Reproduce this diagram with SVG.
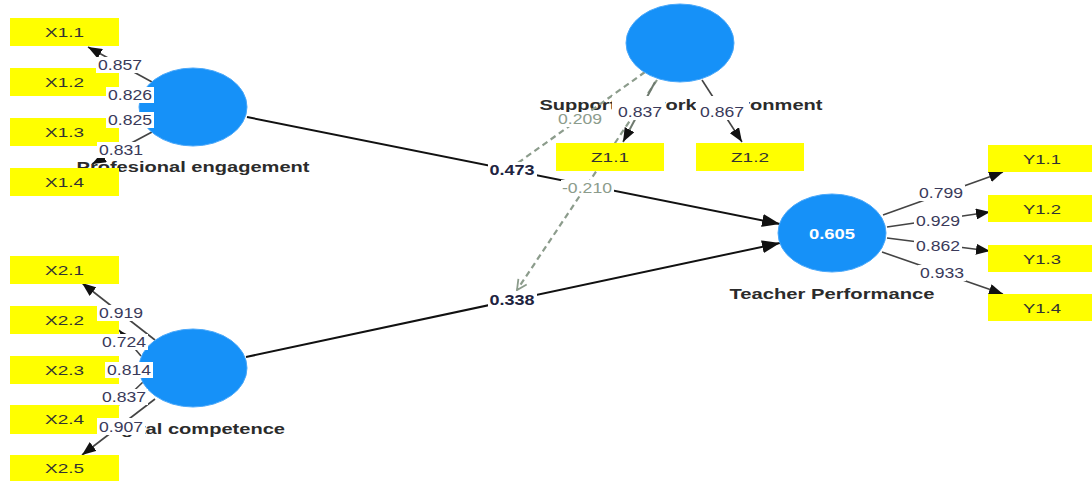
<svg xmlns="http://www.w3.org/2000/svg" width="1092" height="481" viewBox="0 0 1092 481">
<defs>
<style>
.title{font-family:"Liberation Sans",Arial,sans-serif;font-weight:bold;font-size:15px;fill:#2b2b2b}
.box{fill:#ffff00}
.btxt{font-family:"Liberation Sans",Arial,sans-serif;font-size:13.5px;fill:#333;text-anchor:middle}
.lbg{fill:#ffffff}
.ltxt{font-family:"Liberation Sans",Arial,sans-serif;font-size:14px;fill:#3a3a5a;text-anchor:middle}
.lgray{fill:#8c9c8c}
.lbold{font-weight:bold;fill:#1e2440}
.lv{fill:none;stroke:#444;stroke-width:1.6}
.path{fill:none;stroke:#111;stroke-width:2}
.dash{fill:none;stroke:#8c9c8c;stroke-width:2.2;stroke-dasharray:6,4}
.lv2{fill:none;stroke:#6f7a6f;stroke-width:2}
.circ{fill:#1691f8;stroke:#4aa8fa;stroke-width:1}
</style>
<marker id="ah" viewBox="0 0 14 11" refX="14" refY="5.5" markerWidth="14" markerHeight="11" markerUnits="userSpaceOnUse" orient="auto"><path d="M0,0 L14,5.5 L0,11 z" fill="#111"/></marker>
<marker id="ahb" viewBox="0 0 18 13" refX="18" refY="6.5" markerWidth="18" markerHeight="13" markerUnits="userSpaceOnUse" orient="auto"><path d="M0,0 L18,6.5 L0,13 z" fill="#111"/></marker>
<marker id="ahv" viewBox="0 0 12 12" refX="11" refY="6" markerWidth="12" markerHeight="12" markerUnits="userSpaceOnUse" orient="auto"><path d="M1,1 L11,6 L1,11" fill="none" stroke="#8c9c8c" stroke-width="1.8"/></marker>
</defs>
<rect width="1092" height="481" fill="#ffffff"/>

<g id="titles">
<text class="title" x="193" y="172" text-anchor="middle" textLength="233" lengthAdjust="spacingAndGlyphs">Profesional engagement</text>
<text class="title" x="193" y="434" text-anchor="middle" textLength="184" lengthAdjust="spacingAndGlyphs">Digital competence</text>
<text class="title" x="681" y="110" text-anchor="middle" textLength="283" lengthAdjust="spacingAndGlyphs">Supportive work environment</text>
<text class="title" x="832" y="299" text-anchor="middle" textLength="205" lengthAdjust="spacingAndGlyphs">Teacher Performance</text>
</g>

<g id="connectors">
<path class="lv" d="M152,82 L88,47" marker-end="url(#ah)"/>
<path class="lv" d="M141,100 L119,91" marker-end="url(#ah)"/>
<path class="lv" d="M141,114 L119,123" marker-end="url(#ah)"/>
<path class="lv" d="M152,132 L92,164" marker-end="url(#ah)"/>
<path class="lv" d="M155,340 L82,283" marker-end="url(#ah)"/>
<path class="lv" d="M141,356 L119,330" marker-end="url(#ah)"/>
<path class="lv" d="M139,368 L119,370" marker-end="url(#ah)"/>
<path class="lv" d="M143,382 L119,405" marker-end="url(#ah)"/>
<path class="lv" d="M155,399 L82,455" marker-end="url(#ah)"/>
<path class="dash" d="M645,72 L515,165"/>
<path class="dash" d="M657,80 L517,290" marker-end="url(#ahv)"/>
<path class="lv2" d="M655,82 L623,142" marker-end="url(#ah)"/>
<path class="lv" d="M702,80 L742,142" marker-end="url(#ah)"/>
<path class="lv" d="M883,215 L1003,172" marker-end="url(#ah)"/>
<path class="lv" d="M887,227 L990,212" marker-end="url(#ah)"/>
<path class="lv" d="M887,238 L990,251" marker-end="url(#ah)"/>
<path class="lv" d="M882,252 L1003,294" marker-end="url(#ah)"/>
<path class="path" d="M247,117 L780,224" marker-end="url(#ahb)"/>
<path class="path" d="M246,357 L780,243" marker-end="url(#ahb)"/>
</g>

<g id="profesional-engagement"><ellipse class="circ" cx="193" cy="107" rx="54" ry="39"/></g>
<g id="digital-competence"><ellipse class="circ" cx="193" cy="368" rx="54" ry="39"/></g>
<g id="supportive-work-environment"><ellipse class="circ" cx="680" cy="43" rx="54" ry="39"/></g>
<g id="teacher-performance"><ellipse class="circ" cx="832" cy="233" rx="54" ry="39"/>
<text x="832" y="238.5" font-family="Liberation Sans, Arial, sans-serif" font-size="15" font-weight="bold" fill="#ffffff" text-anchor="middle" textLength="46" lengthAdjust="spacingAndGlyphs">0.605</text></g>

<g id="X1.1"><rect class="box" x="10" y="18" width="109" height="28"/><text class="btxt" x="64.5" y="37" textLength="39" lengthAdjust="spacingAndGlyphs">X1.1</text></g>
<g id="X1.2"><rect class="box" x="10" y="68" width="109" height="28"/><text class="btxt" x="64.5" y="87" textLength="39" lengthAdjust="spacingAndGlyphs">X1.2</text></g>
<g id="X1.3"><rect class="box" x="10" y="118" width="109" height="28"/><text class="btxt" x="64.5" y="137" textLength="39" lengthAdjust="spacingAndGlyphs">X1.3</text></g>
<g id="X1.4"><rect class="box" x="10" y="168" width="109" height="28"/><text class="btxt" x="64.5" y="187" textLength="39" lengthAdjust="spacingAndGlyphs">X1.4</text></g>
<g id="X2.1"><rect class="box" x="10" y="256" width="109" height="28"/><text class="btxt" x="64.5" y="275" textLength="39" lengthAdjust="spacingAndGlyphs">X2.1</text></g>
<g id="X2.2"><rect class="box" x="10" y="306" width="109" height="28"/><text class="btxt" x="64.5" y="325" textLength="39" lengthAdjust="spacingAndGlyphs">X2.2</text></g>
<g id="X2.3"><rect class="box" x="10" y="356" width="109" height="28"/><text class="btxt" x="64.5" y="375" textLength="39" lengthAdjust="spacingAndGlyphs">X2.3</text></g>
<g id="X2.4"><rect class="box" x="10" y="405" width="109" height="29"/><text class="btxt" x="64.5" y="424" textLength="39" lengthAdjust="spacingAndGlyphs">X2.4</text></g>
<g id="X2.5"><rect class="box" x="10" y="455" width="109" height="26"/><text class="btxt" x="64.5" y="473" textLength="39" lengthAdjust="spacingAndGlyphs">X2.5</text></g>
<g id="Z1.1"><rect class="box" x="556" y="143" width="108" height="28"/><text class="btxt" x="610" y="162" textLength="38" lengthAdjust="spacingAndGlyphs">Z1.1</text></g>
<g id="Z1.2"><rect class="box" x="696" y="143" width="108" height="28"/><text class="btxt" x="750" y="162" textLength="38" lengthAdjust="spacingAndGlyphs">Z1.2</text></g>
<g id="Y1.1"><rect class="box" x="988" y="145" width="104" height="27"/><text class="btxt" x="1042" y="164" textLength="38" lengthAdjust="spacingAndGlyphs">Y1.1</text></g>
<g id="Y1.2"><rect class="box" x="988" y="195" width="104" height="27"/><text class="btxt" x="1042" y="214" textLength="38" lengthAdjust="spacingAndGlyphs">Y1.2</text></g>
<g id="Y1.3"><rect class="box" x="988" y="245" width="104" height="27"/><text class="btxt" x="1042" y="264" textLength="38" lengthAdjust="spacingAndGlyphs">Y1.3</text></g>
<g id="Y1.4"><rect class="box" x="988" y="294" width="104" height="27"/><text class="btxt" x="1042" y="313" textLength="38" lengthAdjust="spacingAndGlyphs">Y1.4</text></g>

<g id="labels">
<rect class="lbg" x="96" y="57" width="48" height="16"/><text class="ltxt" x="120" y="70" textLength="44" lengthAdjust="spacingAndGlyphs">0.857</text>
<rect class="lbg" x="106" y="87" width="48" height="16"/><text class="ltxt" x="130" y="100" textLength="44" lengthAdjust="spacingAndGlyphs">0.826</text>
<rect class="lbg" x="106" y="112" width="48" height="16"/><text class="ltxt" x="130" y="125" textLength="44" lengthAdjust="spacingAndGlyphs">0.825</text>
<rect class="lbg" x="97" y="142" width="48" height="16"/><text class="ltxt" x="121" y="155" textLength="44" lengthAdjust="spacingAndGlyphs">0.831</text>
<rect class="lbg" x="97" y="305" width="48" height="16"/><text class="ltxt" x="121" y="318" textLength="44" lengthAdjust="spacingAndGlyphs">0.919</text>
<rect class="lbg" x="100" y="334" width="48" height="16"/><text class="ltxt" x="124" y="347" textLength="44" lengthAdjust="spacingAndGlyphs">0.724</text>
<rect class="lbg" x="105" y="362" width="48" height="16"/><text class="ltxt" x="129" y="375" textLength="44" lengthAdjust="spacingAndGlyphs">0.814</text>
<rect class="lbg" x="100" y="389" width="48" height="16"/><text class="ltxt" x="124" y="402" textLength="44" lengthAdjust="spacingAndGlyphs">0.837</text>
<rect class="lbg" x="97" y="418" width="48" height="17"/><text class="ltxt" x="121" y="432" textLength="44" lengthAdjust="spacingAndGlyphs">0.907</text>
<rect class="lbg" x="612" y="96" width="53" height="24"/><text class="ltxt" x="640" y="117" textLength="44" lengthAdjust="spacingAndGlyphs">0.837</text>
<rect class="lbg" x="696" y="96" width="53" height="24"/><text class="ltxt" x="722" y="117" textLength="44" lengthAdjust="spacingAndGlyphs">0.867</text>
<rect class="lbg" x="556" y="112" width="48" height="15"/><text class="ltxt lgray" x="580" y="124" textLength="44" lengthAdjust="spacingAndGlyphs">0.209</text>
<rect class="lbg" x="561" y="180" width="53" height="16"/><text class="ltxt lgray" x="587" y="193" textLength="50" lengthAdjust="spacingAndGlyphs">-0.210</text>
<rect class="lbg" x="488" y="162" width="49" height="16"/><text class="ltxt lbold" x="512" y="175" textLength="45" lengthAdjust="spacingAndGlyphs">0.473</text>
<rect class="lbg" x="488" y="292" width="49" height="16"/><text class="ltxt lbold" x="512" y="305" textLength="45" lengthAdjust="spacingAndGlyphs">0.338</text>
<rect class="lbg" x="917" y="185" width="48" height="16"/><text class="ltxt" x="941" y="198" textLength="44" lengthAdjust="spacingAndGlyphs">0.799</text>
<rect class="lbg" x="914" y="213" width="48" height="16"/><text class="ltxt" x="938" y="226" textLength="44" lengthAdjust="spacingAndGlyphs">0.929</text>
<rect class="lbg" x="914" y="238" width="48" height="16"/><text class="ltxt" x="938" y="251" textLength="44" lengthAdjust="spacingAndGlyphs">0.862</text>
<rect class="lbg" x="918" y="265" width="48" height="16"/><text class="ltxt" x="942" y="278" textLength="44" lengthAdjust="spacingAndGlyphs">0.933</text>
</g>
</svg>
